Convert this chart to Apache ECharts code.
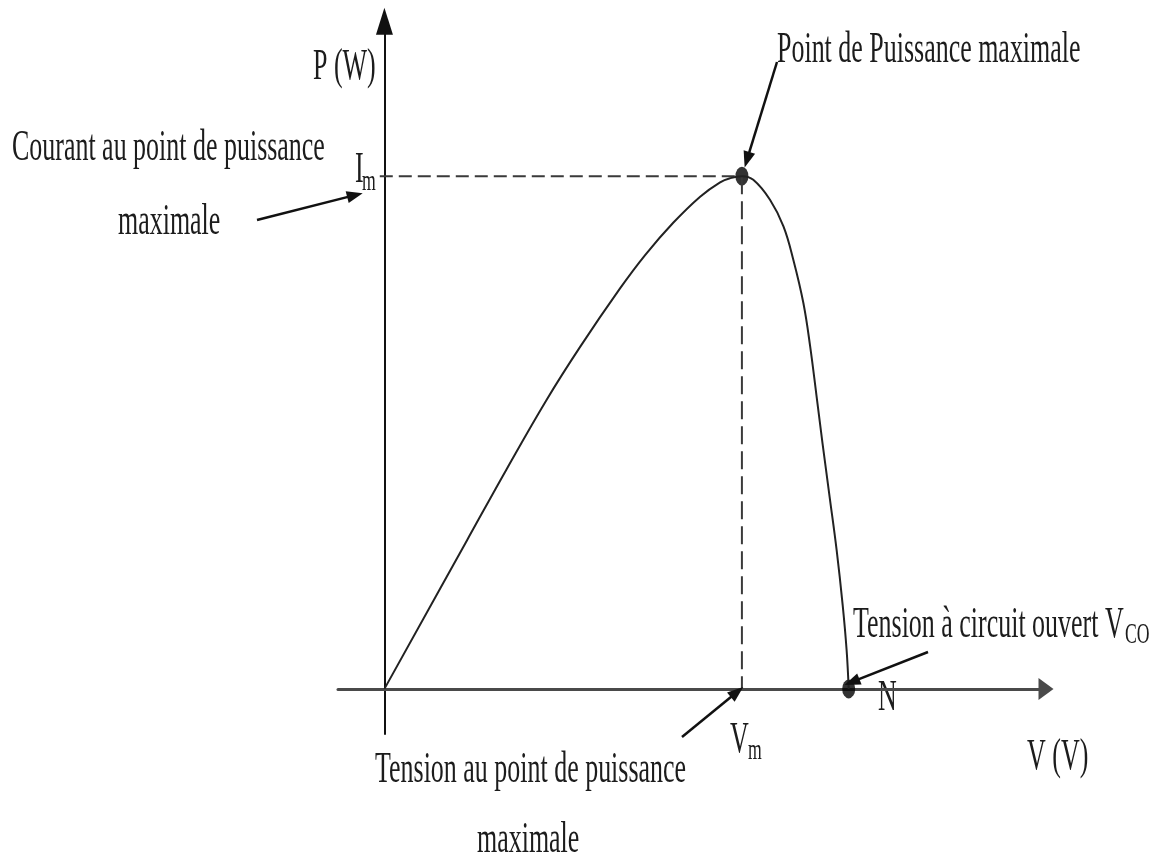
<!DOCTYPE html>
<html>
<head>
<meta charset="utf-8">
<title>Caractéristique P(V)</title>
<script src="https://cdn.jsdelivr.net/npm/echarts@6/dist/echarts.min.js"></script>
<style>
  html, body { margin: 0; padding: 0; background: #fff; }
  #chart { width: 1155px; height: 859px; }
</style>
</head>
<body>
<div id="chart"></div>
<script>
// P–V characteristic of a photovoltaic cell (schematic units)
const voltage = [0, 3.56, 5.27, 6.99, 8.43, 10.15, 11.23, 12.44, 13.6, 14.46, 14.89, 15.4, 15.89, 16.61, 17.19, 17.62, 18.05, 18.34, 18.61, 18.87, 19.18, 19.48, 19.74, 19.91, 20];
const power   = [0, 29.0, 42.9, 56.4, 66.7, 78.1, 84.6, 90.9, 96.0, 98.8, 99.6, 100, 99.3, 95.4, 90.2, 83.6, 75.2, 66.8, 57.3, 48.0, 37.4, 27.1, 16.4, 7.6, 0];
const maxPowerPoint = [15.4, 100];   // (Vm, Im / Pm)
const openCircuitPoint = [20, 0];    // (Vco, 0) – point N
const voltageRange = [-2, 28.5];
const powerRange = [-8.8, 130.2];

const FONT = '"Liberation Serif", "Times New Roman", serif';
const INK = '#1c1c1c';
const SQUEEZE = 0.59;   // narrow, tall lettering

function label(text, left, middle, size) {
  return {
    type: 'text', x: left, y: middle, scaleX: SQUEEZE, silent: true,
    style: {
      text: text, fill: INK,
      font: (size || 44) + 'px ' + FONT,
      align: 'left', verticalAlign: 'middle'
    }
  };
}

const curve = voltage.map((v, i) => [v, power[i]]);
const [vm, pm] = maxPowerPoint;
const [vco, pco] = openCircuitPoint;

const chart = echarts.init(document.getElementById('chart'), null, { renderer: 'canvas' });

chart.setOption({
  animation: false,
  backgroundColor: '#fff',
  grid: { left: 338, right: 109, top: 21.3, bottom: 125 },
  xAxis: {
    type: 'value', min: voltageRange[0], max: voltageRange[1],
    axisLine: {
      onZero: true, symbol: ['none', 'triangle'], symbolSize: [22, 15],
      lineStyle: { color: '#4a4a4a', width: 3 }
    },
    axisTick: { show: false }, axisLabel: { show: false }, splitLine: { show: false }
  },
  yAxis: {
    type: 'value', min: powerRange[0], max: powerRange[1],
    axisLine: {
      onZero: true, symbol: ['none', 'triangle'], symbolSize: [17, 27],
      lineStyle: { color: '#111', width: 2 }
    },
    axisTick: { show: false }, axisLabel: { show: false }, splitLine: { show: false }
  },
  series: [
    {
      // Im level
      type: 'line', silent: true, symbol: 'none',
      data: [[-0.2, pm], [vm, pm]],
      lineStyle: { color: '#3a3a3a', width: 2, type: [13, 6] }
    },
    {
      // Vm drop line
      type: 'line', silent: true, symbol: 'none',
      data: [[vm, pm], [vm, 0]],
      lineStyle: { color: '#3a3a3a', width: 2, type: [18, 7] }
    },
    {
      type: 'line', silent: true, symbol: 'none', smooth: 0.4,
      data: curve,
      lineStyle: { color: '#222', width: 2 },
      markLine: {
        silent: true, animation: false,
        symbol: ['none', 'triangle'], symbolSize: [12, 16],
        label: { show: false },
        lineStyle: { color: '#111', width: 2.5, type: 'solid' },
        emphasis: { disabled: true },
        data: [
          [{ x: 257, y: 220 }, { coord: [-1.27, pm - 3.7] }],
          [{ x: 777, y: 62 },  { coord: [vm + 0.22, pm + 3.2] }],
          [{ x: 682, y: 737 }, { coord: [vm - 0.21, -0.6] }],
          [{ x: 928, y: 652 }, { coord: [vco + 0.14, pco + 1.35] }]
        ]
      }
    },
    {
      type: 'scatter', silent: true,
      data: [maxPowerPoint, openCircuitPoint],
      symbol: 'circle', symbolSize: [13, 19],
      itemStyle: { color: '#000' }
    }
  ],
  graphic: [
    label('P (W)', 313, 67),
    label('Courant au point de puissance', 12, 148),
    label('maximale', 118, 222),
    label('I', 355, 170),
    label('m', 362, 182, 30),
    label('Point de Puissance maximale', 777, 50),
    label('Tension à circuit ouvert V', 853, 625),
    label('CO', 1125, 635, 30),
    label('N', 878, 698),
    label('V', 730, 740),
    label('m', 748, 751, 30),
    label('V (V)', 1027, 757),
    label('Tension au point de puissance', 375, 770),
    label('maximale', 477, 840)
  ]
});
</script>
</body>
</html>
